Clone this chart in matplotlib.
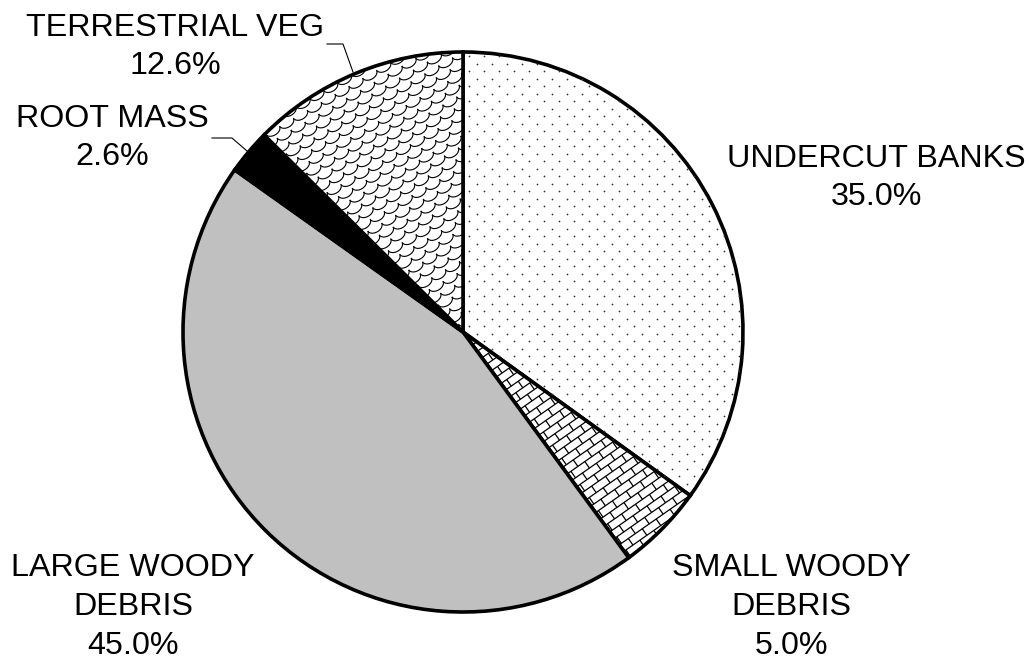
import matplotlib
matplotlib.use('Agg')
import matplotlib.pyplot as plt
import numpy as np
from matplotlib.collections import LineCollection

plt.rcParams['font.family'] = ['Liberation Sans', 'DejaVu Sans']

# data
categories = ['UNDERCUT BANKS', 'SMALL WOODY\nDEBRIS', 'LARGE WOODY\nDEBRIS',
              'ROOT MASS', 'TERRESTRIAL VEG']
shares = [35.0, 5.0, 45.0, 2.6, 12.6]
fills = ['dots', 'brick', '#c0c0c0', 'black', 'shingle']

# label layout (pixel positions in the 1029x662 canvas)
label_px = [(876, 178), (791, 607), (133, 607), (112, 138), (175, 47)]

W, H = 1029, 662
CX, CY, R = 463, 332, 280


def to_data(px, py):
    return (px - CX) / R, (CY - py) / R


fig = plt.figure(figsize=(W / 100, H / 100), dpi=100)
ax = fig.add_axes([0, 0, 1, 1])

face = [f if f not in ('dots', 'brick', 'shingle') else 'white' for f in fills]
wedges, _ = ax.pie(shares, colors=face, startangle=90, counterclock=False,
                   radius=1.0, center=(0, 0), frame=True,
                   wedgeprops=dict(edgecolor='black', linewidth=2.6))
ax.set_xlim(-CX / R, (W - CX) / R)
ax.set_ylim(-(H - CY) / R, CY / R)
ax.set_aspect('auto')
ax.axis('off')

px = 1.0 / R  # one pixel in data units


def dots_pattern(wedge):
    xs, ys = [], []
    rows = np.arange(-1.05, 1.05, 7.5 * px)
    for i, y in enumerate(rows):
        off = 7.5 * px if i % 2 else 0
        for x in np.arange(-1.05 + off, 1.05, 15 * px):
            xs.append(x)
            ys.append(y)
    sc = ax.scatter(xs, ys, s=1.6, color='#333333', linewidths=0, zorder=3)
    sc.set_clip_path(wedge)


def brick_pattern(wedge, ang=35, L=17, Hb=8):
    a = np.deg2rad(ang)
    u = np.array([np.cos(a), np.sin(a)])
    v = np.array([-np.sin(a), np.cos(a)])
    segs = []
    n = int(2.2 / (Hb * px)) + 2
    m = int(2.2 / (L * px)) + 2
    for j in range(-n, n):
        base = j * Hb * px * v
        segs.append([base - 1.6 * u, base + 1.6 * u])
        off = (L / 2) * px if j % 2 else 0
        for i in range(-m, m):
            p = base + (i * L * px + off) * u
            segs.append([p, p + Hb * px * v])
    lc = LineCollection(segs, colors='black', linewidths=0.9, zorder=3)
    ax.add_collection(lc)
    lc.set_clip_path(wedge)


def shingle_pattern(wedge, ang=30, sw=16, sh=9):
    a = np.deg2rad(ang)
    u = np.array([np.cos(a), np.sin(a)])
    v = np.array([-np.sin(a), np.cos(a)])
    t = np.linspace(np.pi, 2 * np.pi, 12)
    arc = np.column_stack([0.5 * sw * np.cos(t), 0.6 * sh * np.sin(t)]) * px
    segs = []
    n = int(2.2 / (sh * px)) + 2
    m = int(2.2 / (sw * px)) + 2
    for j in range(-n, n):
        off = sw / 2 if j % 2 else 0
        for i in range(-m, m):
            c = (i * sw + off) * px * u + j * sh * px * v
            pts = c + arc[:, :1] * u + arc[:, 1:] * v
            segs.append(pts)
    lc = LineCollection(segs, colors='black', linewidths=0.8, zorder=3)
    ax.add_collection(lc)
    lc.set_clip_path(wedge)


for w, f in zip(wedges, fills):
    w.set_zorder(2)
    if f == 'dots':
        dots_pattern(w)
    elif f == 'brick':
        brick_pattern(w)
    elif f == 'shingle':
        shingle_pattern(w)

# redraw outlines on top of patterns
for w in wedges:
    o = plt.Polygon(w.get_verts(), closed=True, fill=False,
                    edgecolor='black', linewidth=2.6, zorder=4)
    ax.add_patch(o)

for name, val, (lx, ly) in zip(categories, shares, label_px):
    x, y = to_data(lx, ly)
    ax.text(x, y, f'{name}\n{val:.1f}%', ha='center', va='center',
            fontsize=23.2, linespacing=1.37, color='black')

# leader lines
for pts in ([(327, 44), (343, 44), (353, 72)],
            [(212, 138), (232, 138), (247, 151)]):
    d = np.array([to_data(a, b) for a, b in pts])
    ax.plot(d[:, 0], d[:, 1], color='black', linewidth=0.8, zorder=5)

fig.savefig('out.png', dpi=100)
